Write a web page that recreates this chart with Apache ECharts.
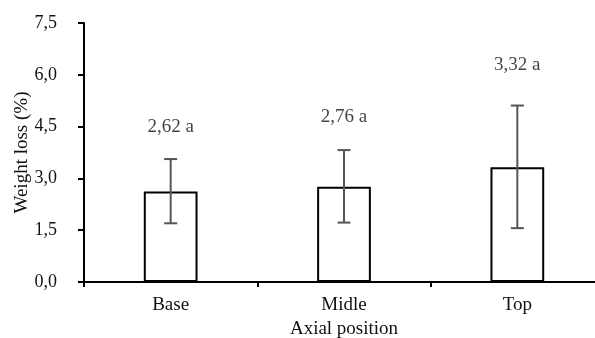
<!DOCTYPE html>
<html>
<head>
<meta charset="utf-8">
<script src="https://cdn.jsdelivr.net/npm/echarts@6/dist/echarts.min.js"></script>
<style>
	html, body { margin: 0; padding: 0; background: #fff; }
	#chart { width: 595px; height: 338px; }
</style>
</head>
<body>
<div id="chart"></div>
<script>
// categories and values
var categories = ['Base', 'Midle', 'Top'];
var weightLoss = [2.62, 2.76, 3.32];
var errLow = [1.70, 1.72, 1.56];
var errHigh = [3.56, 3.82, 5.11];
var barLabels = ['2,62 a', '2,76 a', '3,32 a'];
var labelY = [4.5, 4.78, 6.28];
var yTicks = [0, 1.5, 3.0, 4.5, 6.0, 7.5];

var font = '"Liberation Serif", "DejaVu Serif", serif';

var errData = [];
var labelData = [];
for (var i = 0; i < categories.length; i++) {
	errData.push([i, errLow[i], errHigh[i]]);
	labelData.push([i, labelY[i]]);
}

var chartObj = echarts.init(document.getElementById('chart'));

var option = {
	animation: false,
	grid: { left: 84, top: 23, width: 520, height: 259, containLabel: false, outerBoundsMode: 'none' },
	xAxis: {
		type: 'category',
		data: categories,
		boundaryGap: true,
		name: 'Axial position',
		nameLocation: 'middle',
		nameGap: 38,
		nameMoveOverlap: false,
		nameTextStyle: { fontFamily: font, fontSize: 19, color: '#111' },
		axisLine: { lineStyle: { color: '#000', width: 2 } },
		axisTick: { show: true, length: 5, lineStyle: { color: '#000', width: 2 } },
		axisLabel: { fontFamily: font, fontSize: 19, color: '#111', margin: 14 }
	},
	yAxis: {
		type: 'value',
		min: 0,
		max: yTicks[yTicks.length - 1],
		interval: 1.5,
		name: 'Weight loss (%)',
		nameLocation: 'middle',
		nameGap: 52,
		nameMoveOverlap: false,
		nameTextStyle: { fontFamily: font, fontSize: 19, color: '#111' },
		axisLine: { show: true, lineStyle: { color: '#000', width: 2 } },
		axisTick: { show: true, length: 6, lineStyle: { color: '#000', width: 2 } },
		splitLine: { show: false },
		axisLabel: {
			fontFamily: font, fontSize: 18, color: '#111', margin: 27,
			formatter: function (v) { return v.toFixed(1).replace('.', ','); }
		}
	},
	series: [
		{
			type: 'bar',
			data: weightLoss,
			barWidth: '31%',
			itemStyle: { color: '#fff', borderColor: '#000', borderWidth: 2 }
		},
		{
			type: 'custom',
			data: errData,
			z: 5,
			renderItem: function (params, api) {
				var x = api.value(0);
				var lo = api.coord([x, api.value(1)]);
				var hi = api.coord([x, api.value(2)]);
				var cap = 6.5;
				var st = { stroke: '#555', lineWidth: 2 };
				return {
					type: 'group',
					children: [
						{ type: 'line', shape: { x1: hi[0], y1: hi[1], x2: lo[0], y2: lo[1] }, style: st },
						{ type: 'line', shape: { x1: hi[0] - cap, y1: hi[1], x2: hi[0] + cap, y2: hi[1] }, style: st },
						{ type: 'line', shape: { x1: lo[0] - cap, y1: lo[1], x2: lo[0] + cap, y2: lo[1] }, style: st }
					]
				};
			}
		},
		{
			type: 'scatter',
			data: labelData,
			symbolSize: 0,
			silent: true,
			label: {
				show: true,
				position: 'inside',
				fontFamily: font,
				fontSize: 19,
				color: '#111',
				formatter: function (p) { return barLabels[p.dataIndex]; }
			}
		}
	]
};

chartObj.setOption(option);
</script>
</body>
</html>
